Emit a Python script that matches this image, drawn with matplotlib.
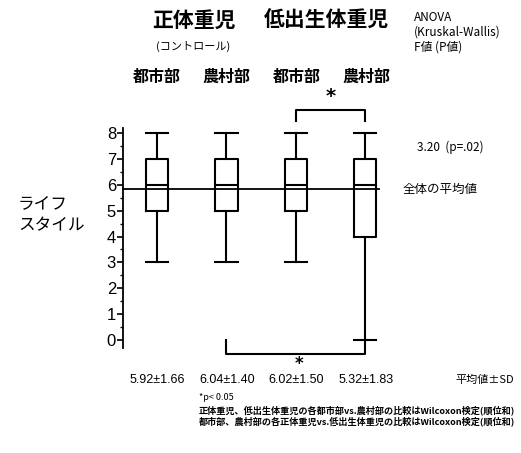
import matplotlib
matplotlib.use("Agg")
import matplotlib.pyplot as plt

plt.rcParams['font.family'] = ['Noto Sans CJK JP', 'DejaVu Sans']

# data
groups = ['都市部', '農村部', '都市部', '農村部']
medians = [6, 6, 6, 6]
q1 = [5, 5, 5, 4]
q3 = [7, 7, 7, 7]
whis_lo = [3, 3, 3, 0]
whis_hi = [8, 8, 8, 8]
mean_sd = ['5.92±1.66', '6.04±1.40', '6.02±1.50', '5.32±1.83']
overall_mean = 5.83
anova_text = '3.20  (p=.02)'

W, H = 521, 453
fig = plt.figure(figsize=(W / 100, H / 100), dpi=100)


def fx(px):
    return px / W


def fy(py):
    return 1 - py / H


ax = fig.add_axes([fx(123), fy(347.8), fx(400) - fx(123), fy(127.8) - fy(347.8)])

stats = []
for i in range(4):
    stats.append(dict(med=medians[i], q1=q1[i], q3=q3[i],
                      whislo=whis_lo[i], whishi=whis_hi[i], fliers=[]))
pos = [1, 2, 3, 4]
lw = 1.5
ax.bxp(stats, positions=pos, widths=0.32, showfliers=False,
       boxprops=dict(color='black', linewidth=lw),
       whiskerprops=dict(color='black', linewidth=lw),
       capprops=dict(color='black', linewidth=lw),
       medianprops=dict(color='black', linewidth=lw),
       capwidths=0.32)

ax.set_xlim(0.51, 4.5)
ax.set_ylim(-0.3, 8.2)
ax.plot([0.51, 4.2], [overall_mean, overall_mean], color='black', lw=1.3, clip_on=False)

for s in ['top', 'right', 'bottom']:
    ax.spines[s].set_visible(False)
ax.spines['left'].set_linewidth(1.3)
ax.set_xticks([])
ax.set_yticks(range(9))
ax.set_yticks([v + 0.5 for v in range(8)], minor=True)
ax.tick_params(axis='y', which='major', length=4, width=1.2, labelsize=12, pad=1)
ax.tick_params(axis='y', which='minor', length=2, width=1)
for lab in ax.get_yticklabels():
    lab.set_family(['Liberation Sans', 'DejaVu Sans'])

# significance brackets
ax.plot([3, 3, 4, 4], [8.45, 8.9, 8.9, 8.45], color='black', lw=1.5, clip_on=False)
ax.text(3.5, 9.05, '*', ha='center', va='bottom', fontsize=14, fontweight='bold',
        family='DejaVu Sans')
ax.plot([2, 2, 4, 4], [0, -0.55, -0.55, 0], color='black', lw=1.5, clip_on=False)
ax.text(3.05, -1.28, '*', ha='center', va='bottom', fontsize=12, fontweight='bold',
        family='DejaVu Sans')

# headings
fig.text(fx(194), fy(20), '正体重児', ha='center', va='center', fontsize=15, fontweight='bold')
fig.text(fx(326), fy(20), '低出生体重児', ha='center', va='center', fontsize=15, fontweight='bold')
fig.text(fx(193), fy(46), '(コントロール)', ha='center', va='center', fontsize=8)
for p, g in zip(pos, groups):
    xp = 157 + (p - 1) * 69.7
    fig.text(fx(xp), fy(77), g, ha='center', va='center', fontsize=11.5, fontweight='bold')
fig.text(fx(414), fy(11), 'ANOVA\n(Kruskal-Wallis)\nF値 (P値)', ha='left', va='top',
         fontsize=8.5, linespacing=1.2)

fig.text(fx(417), fy(147), anova_text, ha='left', va='center', fontsize=8.5)
fig.text(fx(403), fy(189), '全体の平均値', ha='left', va='center', fontsize=9)
fig.text(fx(18), fy(215), 'ライフ\nスタイル', ha='left', va='center', fontsize=12,
         linespacing=1.4)

for p, t in zip(pos, mean_sd):
    xp = 157 + (p - 1) * 69.7
    fig.text(fx(xp), fy(380), t, ha='center', va='center', fontsize=9,
             family=['Liberation Sans', 'DejaVu Sans'])
fig.text(fx(455), fy(380), '平均値±SD', ha='left', va='center', fontsize=8)

fig.text(fx(199), fy(398), '*p< 0.05', ha='left', va='center', fontsize=6.5)
fig.text(fx(199), fy(410), '正体重児、低出生体重児の各都市部vs.農村部の比較はWilcoxon検定(順位和)',
         ha='left', va='center', fontsize=6.6, fontweight='bold')
fig.text(fx(199), fy(421), '都市部、農村部の各正体重児vs.低出生体重児の比較はWilcoxon検定(順位和)',
         ha='left', va='center', fontsize=6.6, fontweight='bold')

fig.savefig('out.png', dpi=100)
